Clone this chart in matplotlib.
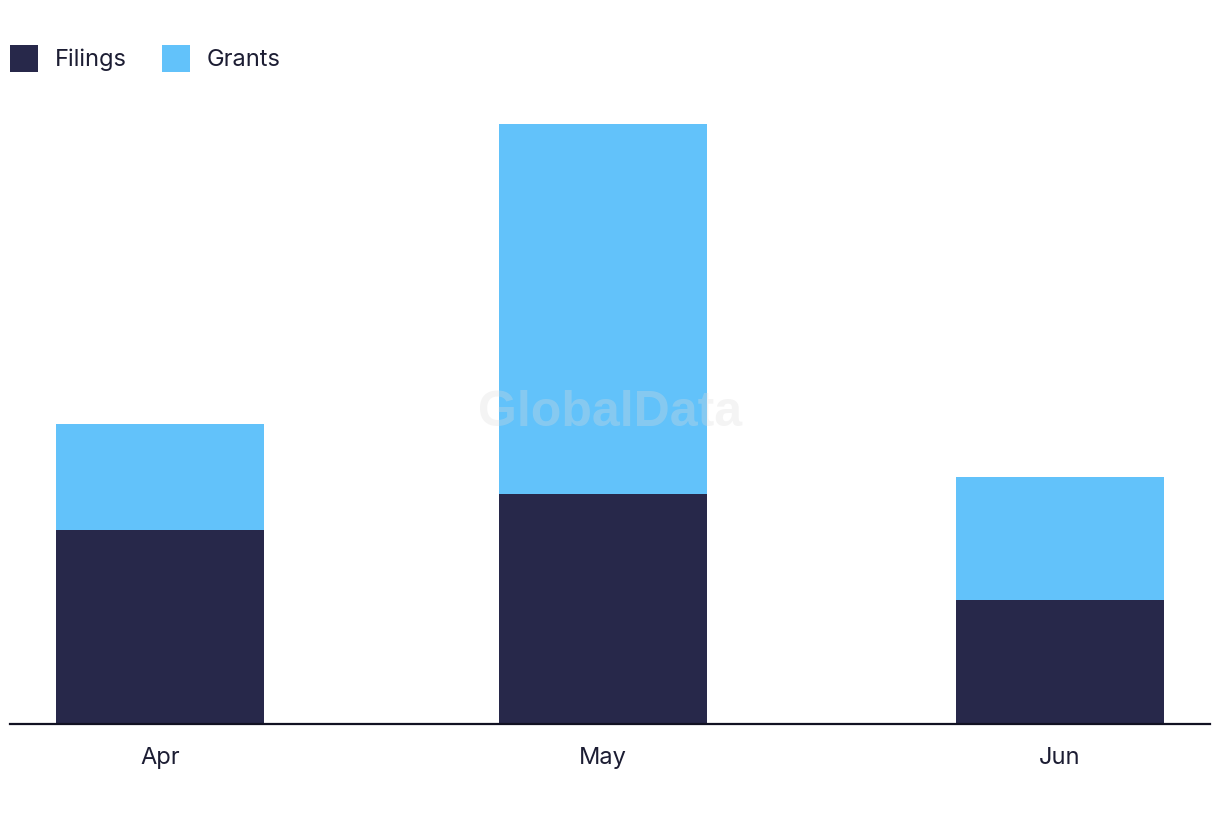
import datetime as dt
import matplotlib
matplotlib.use("Agg")
import matplotlib.pyplot as plt
from matplotlib.patches import Patch

months = ["Apr", "May", "Jun"]
month_dates = [dt.date(2024, 4, 1), dt.date(2024, 5, 1), dt.date(2024, 6, 1)]
filings = [11, 13, 7]
grants = [6, 21, 7]

c_fil = "#27284a"
c_gra = "#62c2fa"
txt = "#1c1d33"

plt.rcParams["font.family"] = ["Inter", "DejaVu Sans"]

W, H = 1220, 822
fig = plt.figure(figsize=(W / 100, H / 100), dpi=100)
px_per_unit = 17.62
ymax = 36
bottom_px = 723.5
top_px = bottom_px - ymax * px_per_unit
ax = fig.add_axes([10 / W, 1 - bottom_px / H, 1200 / W, (bottom_px - top_px) / H])

x = [(d - month_dates[0]).days for d in month_dates]
width = 14.1
ax.bar(x, filings, width=width, color=c_fil, label="Filings", zorder=2)
ax.bar(x, grants, width=width, bottom=filings, color=c_gra, label="Grants", zorder=2)

ax.set_xlim(-10.17, 71.17)
ax.set_ylim(0, ymax)
ax.set_xticks(x)
ax.set_xticklabels(months, fontsize=17, color=txt)
ax.tick_params(axis="x", length=0, pad=17)
ax.set_yticks([])
for s in ["top", "right", "left"]:
    ax.spines[s].set_visible(False)
ax.spines["bottom"].set_color("#111122")
ax.spines["bottom"].set_linewidth(1.6)

handles = [Patch(facecolor=c_fil, label="Filings"), Patch(facecolor=c_gra, label="Grants")]
leg = fig.legend(handles=handles, loc="upper left", bbox_to_anchor=(10 / W, 1 - 45 / H),
                 ncol=2, frameon=False, fontsize=17, handlelength=1.19, handleheight=1.4,
                 handletextpad=0.72, columnspacing=1.48, borderpad=0, borderaxespad=0)
for t in leg.get_texts():
    t.set_color(txt)

fig.text(610 / W, 1 - 413 / H, "GlobalData", ha="center", va="center", fontsize=36,
         fontweight="bold", color="#dcdcdc", alpha=0.3, family=["Liberation Sans", "DejaVu Sans"],
         zorder=10)

fig.savefig("out.png", dpi=100)
